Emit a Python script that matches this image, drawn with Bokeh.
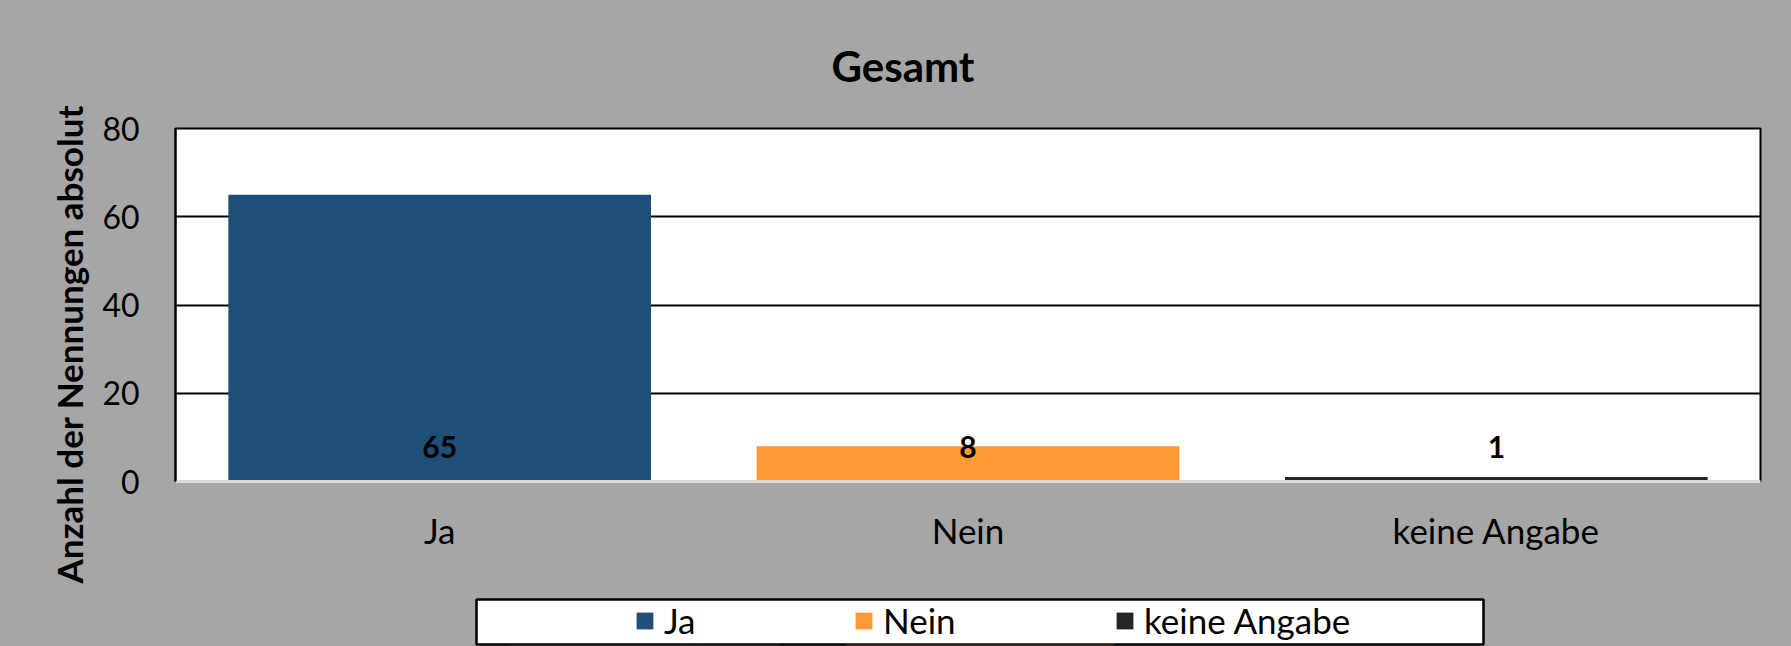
from bokeh.plotting import figure
from bokeh.models import (ColumnDataSource, FactorRange, Range1d, FixedTicker,
                          Legend, LegendItem, Title)
from bokeh.layouts import column, row
from bokeh.core.properties import value
from bokeh.embed import file_html
from bokeh.resources import INLINE

# ---- data ----
title_text = "Gesamt"
y_axis_title = "Anzahl der Nennungen absolut"
categories = ["Ja", "Nein", "keine Angabe"]
counts = [65, 8, 1]
bar_colors = ["#1F4E79", "#FF9933", "#262626"]
y_ticks = [0, 20, 40, 60, 80]

FONT = "Lato"
BG = "#A6A6A6"

src = ColumnDataSource(dict(
    cat=categories,
    count=counts,
    color=bar_colors,
    label=[str(v) for v in counts],
    base=[0] * len(counts),
))

# ---------------- main chart ----------------
p = figure(
    width=1791, height=590,
    x_range=FactorRange(*categories, range_padding=0),
    y_range=Range1d(0, 80),
    output_backend="svg", toolbar_location=None,
    background_fill_color="white",
    border_fill_color=BG,
    min_border_left=175, min_border_right=31,
    min_border_top=127, min_border_bottom=109,
)

p.title.text = title_text
p.title.text_font = FONT
p.title.text_font_size = "42px"
p.title.text_font_style = "bold"
p.title.text_color = "black"
p.title.text_line_height = 0.82
p.title.align = "left"
p.title.offset = 656
p.title.standoff = 76

p.outline_line_color = "black"
p.outline_line_width = 2

p.vbar(x="cat", top="count", width=0.8, source=src,
       fill_color="color", line_color=None)

# data labels at the base of each bar
p.text(x="cat", y="base", text="label", source=src,
       text_font=value(FONT), text_font_size="30px", text_font_style="bold",
       text_color="black", text_align="center", text_baseline="middle",
       y_offset=-35)

p.xgrid.grid_line_color = None
p.ygrid.grid_line_color = "black"
p.ygrid.grid_line_width = 2
p.yaxis.ticker = FixedTicker(ticks=y_ticks)

# y axis
p.yaxis.major_label_text_font = FONT
p.yaxis.major_label_text_font_size = "32px"
p.yaxis.major_label_text_color = "black"
p.yaxis.major_label_standoff = 36
p.yaxis.major_tick_out = 0
p.yaxis.major_tick_in = 0
p.yaxis.minor_tick_out = 0
p.yaxis.minor_tick_in = 0
p.yaxis.axis_line_color = "black"
p.yaxis.axis_line_width = 2

# y axis title (vertical, shifted downward like the original)
ytitle = Title(text=y_axis_title, align="left", offset=-102, standoff=20,
               text_font=FONT, text_font_size="35px", text_font_style="bold",
               text_color="black")
p.add_layout(ytitle, "left")

# x axis
p.xaxis.major_label_text_font = FONT
p.xaxis.major_label_text_font_size = "35px"
p.xaxis.major_label_text_color = "black"
p.xaxis.major_label_standoff = 27
p.xaxis.major_tick_out = 0
p.xaxis.major_tick_in = 0
p.xaxis.axis_line_color = "#D9D9D9"
p.xaxis.axis_line_width = 3

# ---------------- legend strip ----------------
lg = figure(
    width=1791, height=56,
    x_range=FactorRange(*categories, range_padding=0),
    y_range=Range1d(100, 101),
    output_backend="svg", toolbar_location=None,
    x_axis_location=None, y_axis_location=None,
    background_fill_color="white",
    border_fill_color=BG,
    min_border_left=476, min_border_right=308,
    min_border_top=9, min_border_bottom=2,
)
lg.grid.grid_line_color = None
lg.outline_line_color = "black"
lg.outline_line_width = 2.5

legend_x = [158, 377, 638]
for i, c in enumerate(categories):
    sub = ColumnDataSource(dict(cat=[c], count=[counts[i]]))
    r = lg.vbar(x="cat", top="count", width=0.8, source=sub,
                fill_color=bar_colors[i], line_color=None)
    leg = Legend(items=[LegendItem(label=c, renderers=[r])],
                 location=(legend_x[i], 3),
                 orientation="horizontal",
                 border_line_color=None, background_fill_alpha=0,
                 padding=0, margin=0, spacing=0,
                 glyph_width=21, glyph_height=21, label_standoff=9,
                 label_text_font=FONT, label_text_font_size="35px",
                 label_text_color="black")
    lg.add_layout(leg)

layout = column(row(p, spacing=0), row(lg, spacing=0), spacing=0,
                styles={"background-color": BG})

open("out.html", "w").write(file_html(layout, INLINE))
